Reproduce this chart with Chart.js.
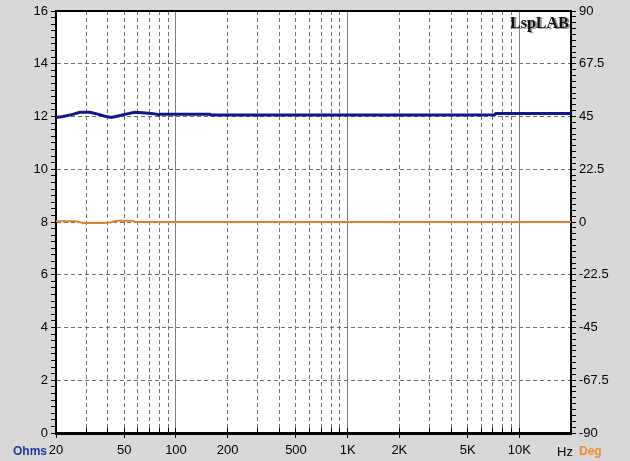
<!DOCTYPE html>
<html><head><meta charset="utf-8">
<script src="https://cdn.jsdelivr.net/npm/chart.js@4"></script>
<style>
html,body{margin:0;padding:0;background:#d8d8d8;}
#wrap{position:relative;width:630px;height:461px;overflow:hidden;}
canvas{display:block;}
.lbl{position:absolute;font-family:"Liberation Sans",Arial,sans-serif;white-space:nowrap;line-height:1;}
</style></head><body>
<div id="wrap">
<canvas id="c" width="630" height="461"></canvas>
<div class="lbl" style="left:13px;top:445px;font-size:12px;font-weight:bold;color:#1f3a9e">Ohms</div>
<div class="lbl" style="left:579px;top:445px;font-size:12px;font-weight:bold;color:#f08a2c">Deg</div>
<div class="lbl" style="left:557px;top:445px;font-size:13px;color:#000">Hz</div>
<div class="lbl" style="left:510px;top:15px;font-family:'Liberation Serif','Times New Roman',serif;font-size:16px;font-weight:bold;color:#111;text-shadow:2px 1px 0 #9a9a9a">LspLAB</div>
</div>
<script>
// ---- data ----
const freqHz        = [20, 22, 25, 27.5, 31.5, 35, 38.5, 42, 46, 51, 57.5, 64, 72, 77, 79, 81, 90, 120, 157, 160, 500, 1000, 3000, 7200, 7300, 12000, 20000];
const impedanceOhms = [11.96, 12.0, 12.08, 12.16, 12.16, 12.09, 12.01, 11.96, 12.02, 12.09, 12.16, 12.14, 12.11, 12.09, 12.06, 12.09, 12.09, 12.09, 12.09, 12.06, 12.06, 12.06, 12.06, 12.07, 12.11, 12.11, 12.11];
const phaseFreqHz   = [20, 26, 27.5, 29, 38, 41, 44, 46, 56, 57.5, 60, 100, 1000, 10000, 20000];
const phaseDeg      = [0.3, 0.3, -0.1, -0.4, -0.4, -0.2, 0.3, 0.5, 0.5, 0.1, 0.0, 0.0, 0.0, 0.0, 0.0];

// ---- axes / tick labels ----
const xRange = [20, 20000];
const xGridValues = [20,30,40,50,60,70,80,90,100,200,300,400,500,600,700,800,900,1000,2000,3000,4000,5000,6000,7000,8000,9000,10000,20000];
const xLabelValues = [20, 50, 100, 200, 500, 1000, 2000, 5000, 10000];
const xLabelTexts  = ['20','50','100','200','500','1K','2K','5K','10K'];
const ohmsRange = [0, 16];
const ohmsLabelStep = 2;
const ohmsMinorStep = 0.25;
const degRange = [-90, 90];
const degLabelStep = 22.5;
const degMinorStep = 2.5;

function stepTicks(min, max, step) {
  const out = []; const n = Math.round((max - min) / step);
  for (let i = 0; i <= n; i++) out.push({ value: +(min + i * step).toFixed(4) });
  return out;
}
const isMultiple = (v, s) => Math.abs(v / s - Math.round(v / s)) < 1e-6;
const isDecade = v => isMultiple(Math.log10(v), 1);
const FONT = { family: '"Liberation Sans", Arial, sans-serif', size: 13 };

const plotBg = {
  id: 'plotBg',
  beforeDraw(chart) {
    const { ctx, chartArea: a } = chart;
    ctx.save(); ctx.fillStyle = '#ffffff';
    ctx.fillRect(a.left, a.top, a.right - a.left, a.bottom - a.top);
    ctx.restore();
  }
};

const xTicksBuild = s => { s.ticks = xGridValues.map(v => ({ value: v })); };

new Chart(document.getElementById('c'), {
  type: 'line',
  data: {
    datasets: [
      { label: 'Ohms', data: freqHz.map((f, i) => ({ x: f, y: impedanceOhms[i] })),
        xAxisID: 'x', yAxisID: 'y', borderColor: '#14148c', borderWidth: 3,
        pointRadius: 0, tension: 0, fill: false },
      { label: 'Deg', data: phaseFreqHz.map((f, i) => ({ x: f, y: phaseDeg[i] })),
        xAxisID: 'x', yAxisID: 'y2', borderColor: '#e0802c', borderWidth: 2,
        pointRadius: 0, tension: 0, fill: false }
    ]
  },
  options: {
    responsive: false, animation: false, devicePixelRatio: 1,
    layout: { padding: 0 },
    plugins: { legend: { display: false }, tooltip: { enabled: false } },
    scales: {
      x: {
        type: 'logarithmic', position: 'bottom', min: xRange[0], max: xRange[1],
        afterBuildTicks: xTicksBuild,
        afterFit: s => { s.height = 28; },
        ticks: { autoSkip: false, maxRotation: 0, minRotation: 0, padding: 5, color: '#000', font: FONT,
          callback: v => { const i = xLabelValues.indexOf(v); return i >= 0 ? xLabelTexts[i] : ''; } },
        grid: {
          color: c => !c.tick || c.tick.value === xRange[0] || c.tick.value === xRange[1] ? 'rgba(0,0,0,0)' : (isDecade(c.tick.value) ? '#808080' : '#707070'),
          lineWidth: 1, tickLength: 5,
          tickColor: c => c.tick && xLabelValues.includes(c.tick.value) ? '#000' : 'rgba(0,0,0,0)'
        },
        border: { display: true, color: '#000', width: 3,
          dash: c => (c.tick && !isDecade(c.tick.value)) ? [4, 3] : [] }
      },
      xIn: {
        type: 'logarithmic', axis: 'x', position: { y: 0.19 }, min: xRange[0], max: xRange[1],
        afterBuildTicks: xTicksBuild,
        ticks: { display: false },
        grid: { drawOnChartArea: false, drawTicks: true, tickLength: 5, tickColor: '#000' },
        border: { display: false }
      },
      xTop: {
        type: 'logarithmic', axis: 'x', position: 'top', min: xRange[0], max: xRange[1],
        afterFit: s => { s.height = 11; },
        ticks: { display: false },
        grid: { drawOnChartArea: false, drawTicks: false },
        border: { display: true, color: '#000', width: 2 }
      },
      y: {
        type: 'linear', position: 'left', min: ohmsRange[0], max: ohmsRange[1],
        afterBuildTicks: s => { s.ticks = stepTicks(ohmsRange[0], ohmsRange[1], ohmsMinorStep); },
        afterFit: s => { s.width = 56; },
        ticks: { autoSkip: false, padding: 3, color: '#000', font: FONT,
          callback: v => isMultiple(v, ohmsLabelStep) ? String(v) : '' },
        grid: {
          color: c => (c.tick && isMultiple(c.tick.value, ohmsLabelStep) && c.tick.value !== ohmsRange[0] && c.tick.value !== ohmsRange[1]) ? '#707070' : 'rgba(0,0,0,0)',
          lineWidth: 1, tickLength: 5, tickColor: '#000'
        },
        border: { display: true, color: '#000', width: 2, dash: [4, 3] }
      },
      y2: {
        type: 'linear', position: 'right', min: degRange[0], max: degRange[1],
        afterBuildTicks: s => { s.ticks = stepTicks(degRange[0], degRange[1], degMinorStep); },
        afterFit: s => { s.width = 59; },
        ticks: { autoSkip: false, padding: 3, color: '#000', font: FONT,
          callback: v => isMultiple(v, degLabelStep) ? String(v) : '' },
        grid: { drawOnChartArea: false, tickLength: 5, tickColor: '#000' },
        border: { display: true, color: '#000', width: 2 }
      }
    }
  },
  plugins: [plotBg]
});
</script>
</body></html>
